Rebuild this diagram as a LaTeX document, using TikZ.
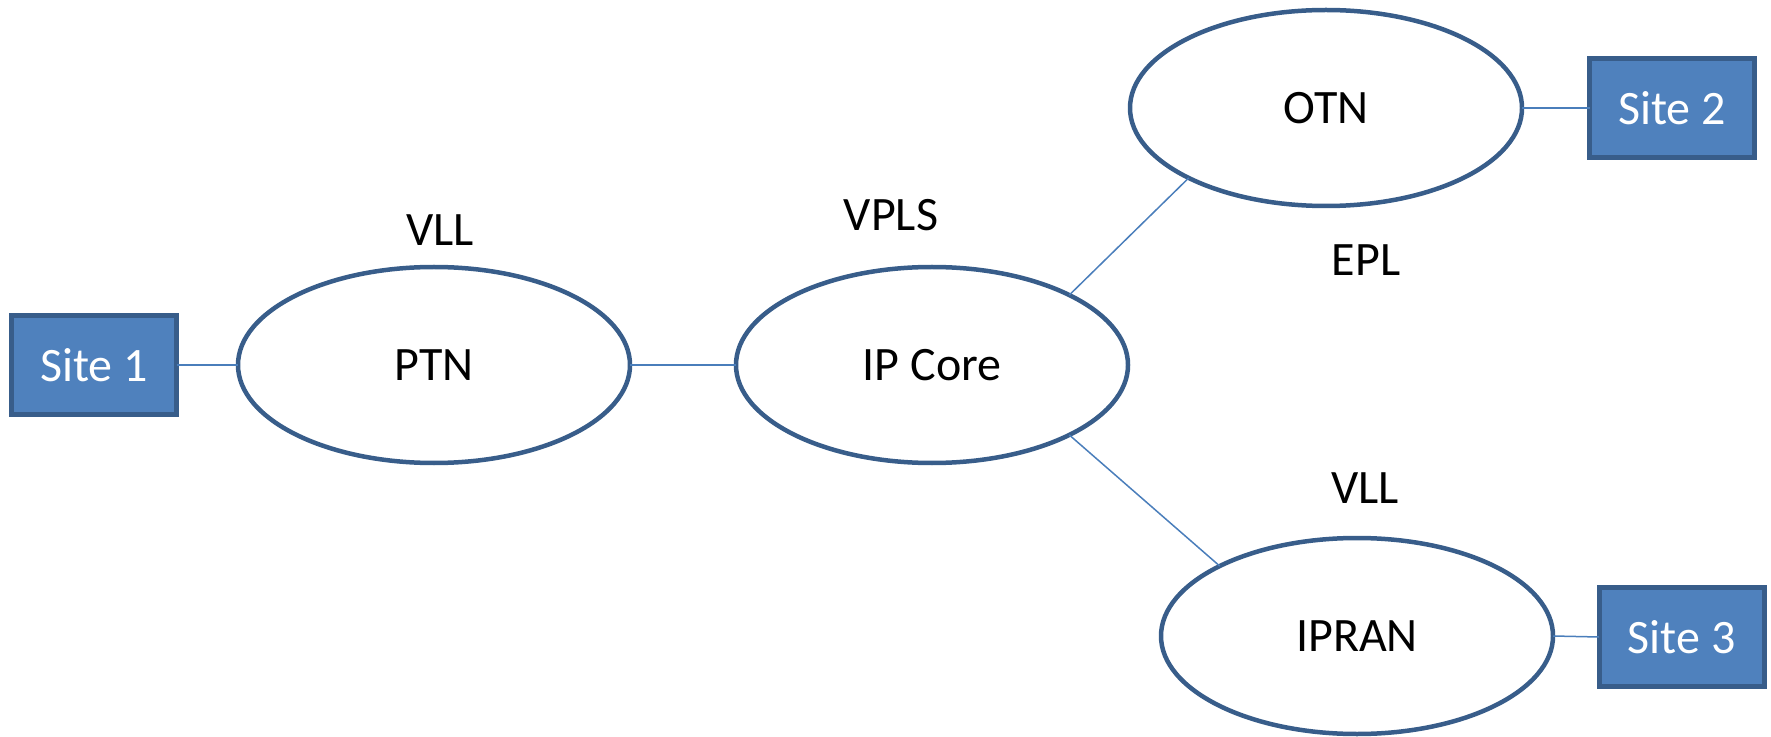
\documentclass[tikz,border=0pt]{standalone}
\usepackage{fontspec}
\setmainfont{Carlito}
\usetikzlibrary{shapes.geometric}
\definecolor{boxfill}{HTML}{4F81BD}
\definecolor{boxedge}{HTML}{385D8A}
\definecolor{linkcol}{HTML}{4A7EBB}
\tikzset{
  net/.style={ellipse, draw=boxedge, line width=2.25pt, fill=white,
    minimum width=196pt, minimum height=98pt, inner sep=0pt, outer sep=0pt,
    font=\fontsize{24}{28}\selectfont},
  site/.style={rectangle, draw=boxedge, line width=2.5pt, fill=boxfill,
    minimum width=82.5pt, minimum height=49.5pt, inner sep=0pt, outer sep=0pt,
    text=white, font=\fontsize{24}{28}\selectfont},
  tag/.style={anchor=base, inner sep=0pt, font=\fontsize{24}{28}\selectfont},
  link/.style={draw=linkcol, line width=0.75pt}
}
\begin{document}
\begin{tikzpicture}[x=0.5pt, y=-0.5pt]
  \useasboundingbox (0,0) rectangle (1771,737);

  % network clouds
  \node[net] (ptn)   at (434,365)  {PTN};
  \node[net] (core)  at (932,365)  {IP Core};
  \node[net] (otn)   at (1326,108) {OTN};
  \node[net] (ipran) at (1357,636) {IPRAN};

  % customer sites
  \node[site] (s1) at (94,365)    {Site 1};
  \node[site] (s2) at (1672,108)  {Site 2};
  \node[site] (s3) at (1681.5,637) {Site 3};

  % service labels
  \node[tag] (l1) at (440,246)  {VLL};
  \node[tag] (l2) at (891,231)  {VPLS};
  \node[tag] (l3) at (1366,276) {EPL};
  \node[tag] (l4) at (1365,503) {VLL};

  % links
  \draw[link] (s1.east) -- (ptn.west);
  \draw[link] (ptn.east) -- (core.west);
  \draw[link] (core.27) -- (otn.207);
  \draw[link] (core.-27) -- (ipran.153);
  \draw[link] (otn.east) -- (s2.west);
  \draw[link] (ipran.east) -- (s3.west);
\end{tikzpicture}
\end{document}
